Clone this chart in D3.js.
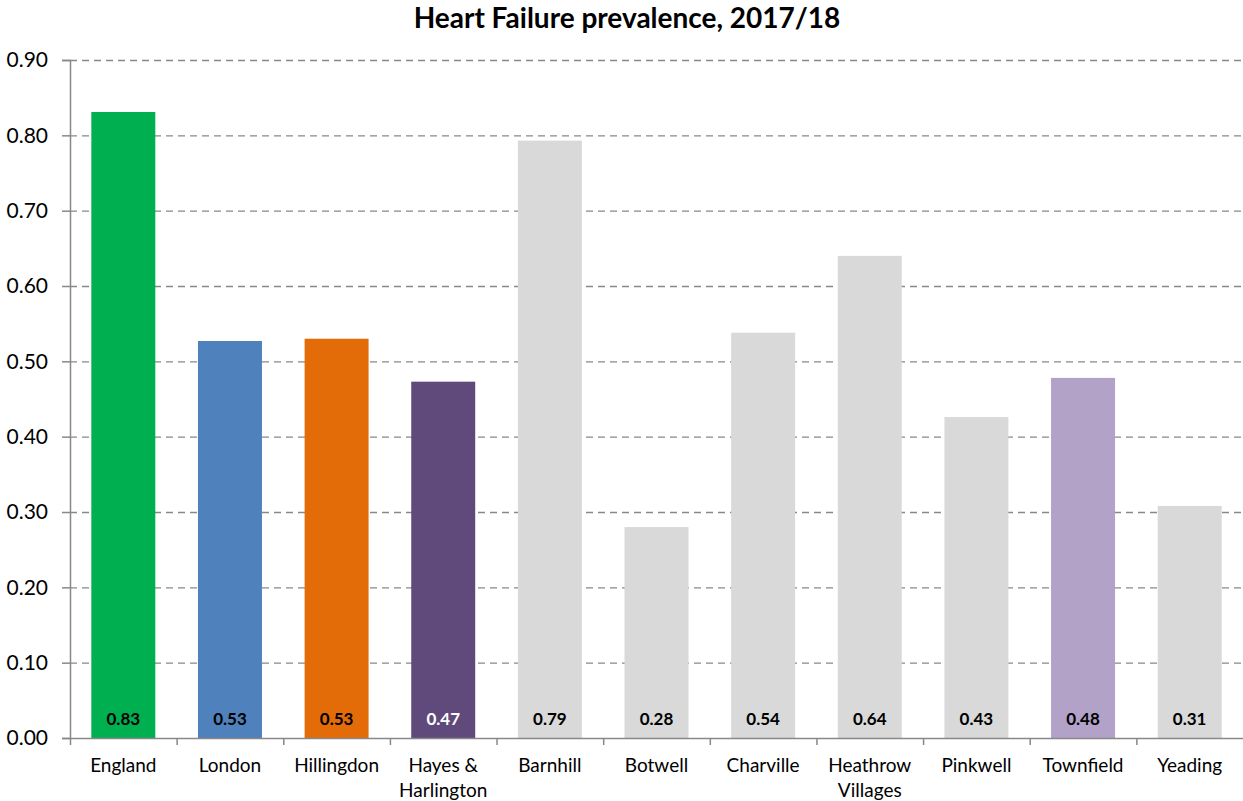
<!DOCTYPE html>
<html><head><meta charset="utf-8">
<script src="https://cdn.jsdelivr.net/npm/d3@7"></script>
<style>body{margin:0;background:#fff;} svg{display:block;font-family:Lato,"Open Sans",sans-serif;}</style>
</head><body>
<svg id="chart" width="1243" height="801"></svg>
<script>
const categories = ["England","London","Hillingdon","Hayes & Harlington","Barnhill","Botwell","Charville","Heathrow Villages","Pinkwell","Townfield","Yeading"];
const labelLines = [["England"],["London"],["Hillingdon"],["Hayes &","Harlington"],["Barnhill"],["Botwell"],["Charville"],["Heathrow","Villages"],["Pinkwell"],["Townfield"],["Yeading"]];
const values = [0.831,0.527,0.530,0.473,0.793,0.280,0.538,0.640,0.426,0.478,0.308];
const valueLabels = ["0.83","0.53","0.53","0.47","0.79","0.28","0.54","0.64","0.43","0.48","0.31"];
const barColors = ["#00B050","#4F81BD","#E36C09","#604A7B","#D9D9D9","#D9D9D9","#D9D9D9","#D9D9D9","#D9D9D9","#B2A2C7","#D9D9D9"];
const labelColors = ["#000","#000","#000","#fff","#000","#000","#000","#000","#000","#000","#000"];
const yTicks = [0,0.1,0.2,0.3,0.4,0.5,0.6,0.7,0.8,0.9];
const title = "Heart Failure prevalence, 2017/18";

const svg = d3.select("#chart");
const m = {left:70, right:1243, top:60, bottom:738};
const x = d3.scaleBand().domain(categories).range([m.left, m.right]).paddingInner(0.4).paddingOuter(0.2);
const xb = d3.scaleBand().domain(categories).range([m.left, m.right]);
const y = d3.scaleLinear().domain([0,0.9]).range([m.bottom, m.top]);

svg.append("text").attr("x",627).attr("y",28).attr("text-anchor","middle")
  .attr("font-size",28).attr("font-weight","bold").attr("fill","#000").text(title);

// gridlines
svg.append("g").selectAll("line").data(yTicks.slice(1)).join("line")
  .attr("x1",m.left).attr("x2",m.right).attr("y1",d=>y(d)+0.5).attr("y2",d=>y(d)+0.5)
  .attr("stroke","#888").attr("stroke-width",1.3).attr("stroke-dasharray","7,5");

// bars
svg.append("g").selectAll("rect").data(values).join("rect")
  .attr("x",(d,i)=>x(categories[i])).attr("width",x.bandwidth())
  .attr("y",d=>y(d)).attr("height",d=>m.bottom-y(d)).attr("fill",(d,i)=>barColors[i]);

// value labels
svg.append("g").selectAll("text").data(values).join("text")
  .attr("x",(d,i)=>x(categories[i])+x.bandwidth()/2).attr("y",725)
  .attr("text-anchor","middle").attr("font-size",17).attr("font-weight","bold")
  .attr("fill",(d,i)=>labelColors[i]).text((d,i)=>valueLabels[i]);

// y axis
const ya = svg.append("g").attr("transform",`translate(${m.left},0)`)
  .call(d3.axisLeft(y).tickValues(yTicks).tickFormat(d3.format(".2f")).tickSize(8).tickPadding(14));
ya.select(".domain").attr("stroke","#888").attr("stroke-width",1.5);
ya.selectAll(".tick line").attr("stroke","#888").attr("stroke-width",1.5);
ya.selectAll(".tick text").attr("font-size",21).attr("fill","#000").attr("font-family","Lato,'Open Sans',sans-serif");

// x axis
const xa = svg.append("g").attr("transform",`translate(0,${m.bottom})`)
  .call(d3.axisBottom(xb).tickSize(0).tickFormat(""));
xa.select(".domain").attr("stroke","#888").attr("stroke-width",1.5);
xa.selectAll(".tick").remove();
svg.append("g").selectAll("line").data(categories).join("line")
  .attr("x1",d=>xb(d)+0.5).attr("x2",d=>xb(d)+0.5).attr("y1",m.bottom).attr("y2",m.bottom+7)
  .attr("stroke","#888").attr("stroke-width",1.5);

const cl = svg.append("g").selectAll("text").data(categories).join("text")
  .attr("x",d=>xb(d)+xb.bandwidth()/2).attr("y",772).attr("text-anchor","middle")
  .attr("font-size",19).attr("fill","#000");
cl.each(function(d,i){
  const t = d3.select(this);
  labelLines[i].forEach((ln,j)=>{
    t.append("tspan").attr("x",xb(d)+xb.bandwidth()/2).attr("dy",j===0?0:25).text(ln);
  });
});
</script>
</body></html>
